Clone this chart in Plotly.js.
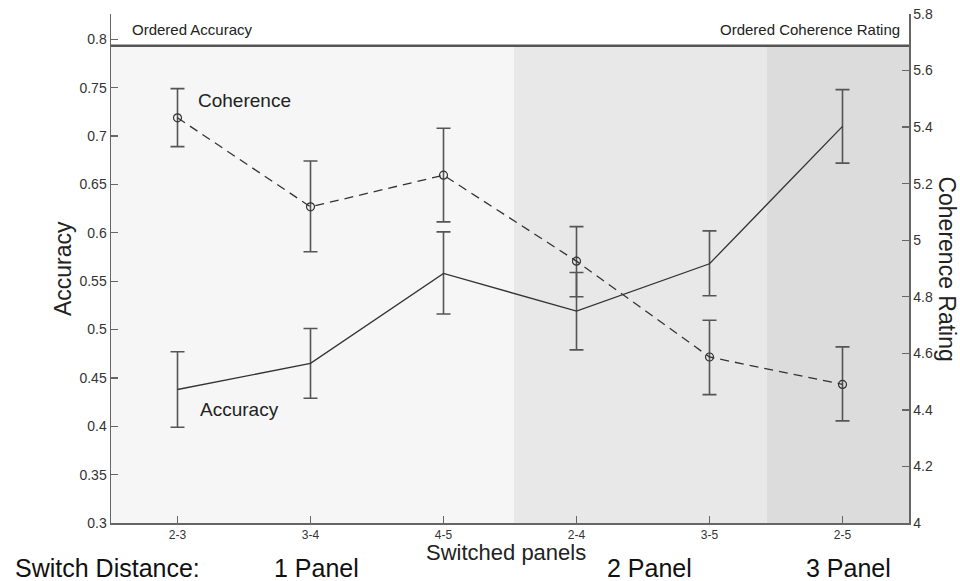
<!DOCTYPE html>
<html>
<head>
<meta charset="utf-8">
<script src="https://cdn.plot.ly/plotly-3.0.1.min.js"></script>
<style>
  html, body { margin: 0; padding: 0; background: #fff; }
  #chart { width: 960px; height: 581px; }
</style>
</head>
<body>
<div id="chart"></div>
<script>
// ---- Data ----
const categories = ["2-3", "3-4", "4-5", "2-4", "3-5", "2-5"];

const accuracy      = [0.438, 0.465, 0.558, 0.519, 0.568, 0.710];
const accuracyUpper = [0.477, 0.501, 0.601, 0.559, 0.602, 0.748];
const accuracyLower = [0.399, 0.429, 0.516, 0.479, 0.535, 0.672];

const coherence      = [5.433, 5.118, 5.230, 4.926, 4.587, 4.490];
const coherenceUpper = [5.536, 5.280, 5.396, 5.048, 4.717, 4.623];
const coherenceLower = [5.331, 4.959, 5.065, 4.800, 4.454, 4.361];

const groupLabels = ["1 Panel", "2 Panel", "3 Panel"];

// ---- Build traces ----
const FONT = "Liberation Sans, Arial, Helvetica, sans-serif";

const accTrace = {
  x: categories,
  y: accuracy,
  type: "scatter",
  mode: "lines",
  name: "Accuracy",
  line: { color: "#333333", width: 1.3 },
  error_y: {
    type: "data",
    symmetric: false,
    array: accuracy.map((v, i) => accuracyUpper[i] - v),
    arrayminus: accuracy.map((v, i) => v - accuracyLower[i]),
    color: "#555555",
    thickness: 1.6,
    width: 7
  },
  xaxis: "x",
  yaxis: "y",
  showlegend: false,
  hoverinfo: "skip"
};

const cohTrace = {
  x: categories,
  y: coherence,
  type: "scatter",
  mode: "lines+markers",
  name: "Coherence",
  line: { color: "#333333", width: 1.3, dash: "9px,6px" },
  marker: { symbol: "circle-open", size: 8, color: "#333333", line: { width: 1.2, color: "#333333" } },
  error_y: {
    type: "data",
    symmetric: false,
    array: coherence.map((v, i) => coherenceUpper[i] - v),
    arrayminus: coherence.map((v, i) => v - coherenceLower[i]),
    color: "#555555",
    thickness: 1.6,
    width: 7
  },
  xaxis: "x",
  yaxis: "y2",
  showlegend: false,
  hoverinfo: "skip"
};

// ---- Layout ----
const lineY = 0.9377; // paper position of the separator line

const layout = {
  width: 960,
  height: 581,
  margin: { l: 111, r: 51, t: 14, b: 58 },
  paper_bgcolor: "#ffffff",
  plot_bgcolor: "#ffffff",
  font: { family: FONT, color: "#222222" },
  showlegend: false,
  xaxis: {
    type: "category",
    range: [-0.5, 5.5],
    showline: true,
    linecolor: "#666666",
    linewidth: 1.5,
    ticks: "inside",
    ticklen: 7,
    tickwidth: 1.3,
    tickcolor: "#666666",
    tickfont: { size: 12, color: "#333333", family: FONT },
    showgrid: false,
    zeroline: false,
    mirror: false
  },
  yaxis: {
    range: [0.3, 0.8262],
    dtick: 0.05,
    tick0: 0.3,
    showline: true,
    linecolor: "#666666",
    linewidth: 1.5,
    ticks: "inside",
    ticklen: 7,
    tickwidth: 1.3,
    tickcolor: "#666666",
    tickfont: { size: 14, color: "#333333", family: FONT },
    showgrid: false,
    zeroline: false
  },
  yaxis2: {
    overlaying: "y",
    side: "right",
    range: [4, 5.8],
    dtick: 0.2,
    tick0: 4,
    showline: true,
    linecolor: "#666666",
    linewidth: 1.5,
    ticks: "inside",
    ticklen: 7,
    tickwidth: 1.3,
    tickcolor: "#666666",
    tickfont: { size: 14, color: "#333333", family: FONT },
    showgrid: false,
    zeroline: false
  },
  shapes: [
    { type: "rect", layer: "below", xref: "x", yref: "paper", x0: -0.5, x1: 2.53, y0: 0, y1: lineY,
      fillcolor: "#f6f6f6", line: { width: 0 } },
    { type: "rect", layer: "below", xref: "x", yref: "paper", x0: 2.53, x1: 4.43, y0: 0, y1: lineY,
      fillcolor: "#e8e8e8", line: { width: 0 } },
    { type: "rect", layer: "below", xref: "x", yref: "paper", x0: 4.43, x1: 5.5, y0: 0, y1: lineY,
      fillcolor: "#dcdcdc", line: { width: 0 } },
    { type: "line", layer: "above", xref: "paper", yref: "paper", x0: 0, x1: 1, y0: lineY, y1: lineY,
      line: { color: "#555555", width: 2.5 } }
  ],
  annotations: [
    { text: "Ordered Accuracy", xref: "paper", yref: "paper", x: 0.0238, y: 0.970,
      xanchor: "left", yanchor: "middle", showarrow: false, font: { size: 15, color: "#222222", family: FONT } },
    { text: "Ordered Coherence Rating", xref: "paper", yref: "paper", x: 0.9909, y: 0.970,
      xanchor: "right", yanchor: "middle", showarrow: false, font: { size: 15, color: "#222222", family: FONT } },
    { text: "Coherence", xref: "paper", yref: "paper", x: 0.106, y: 0.831,
      xanchor: "left", yanchor: "middle", showarrow: false, font: { size: 19, color: "#222222", family: FONT } },
    { text: "Accuracy", xref: "paper", yref: "paper", x: 0.1094, y: 0.2235,
      xanchor: "left", yanchor: "middle", showarrow: false, font: { size: 19, color: "#222222", family: FONT } },
    { text: "Accuracy", xref: "paper", yref: "paper", x: -0.0602, y: 0.5007, textangle: -90,
      xanchor: "center", yanchor: "middle", showarrow: false, font: { size: 23, color: "#222222", family: FONT } },
    { text: "Coherence Rating", xref: "paper", yref: "paper", x: 1.0473, y: 0.4987, textangle: 90,
      xanchor: "center", yanchor: "middle", showarrow: false, font: { size: 23, color: "#222222", family: FONT } },
    { text: "Switched panels", xref: "paper", yref: "paper", x: 0.495, y: -0.0576,
      xanchor: "center", yanchor: "middle", showarrow: false, font: { size: 22, color: "#222222", family: FONT } },
    { text: "Switch Distance:", xref: "paper", yref: "paper", x: -0.1228, y: -0.089,
      xanchor: "left", yanchor: "middle", showarrow: false, font: { size: 25, color: "#111111", family: FONT } },
    { text: groupLabels[0], xref: "paper", yref: "paper", x: 0.258, y: -0.089,
      xanchor: "center", yanchor: "middle", showarrow: false, font: { size: 25, color: "#111111", family: FONT } },
    { text: groupLabels[1], xref: "paper", yref: "paper", x: 0.6754, y: -0.089,
      xanchor: "center", yanchor: "middle", showarrow: false, font: { size: 25, color: "#111111", family: FONT } },
    { text: groupLabels[2], xref: "paper", yref: "paper", x: 0.9236, y: -0.089,
      xanchor: "center", yanchor: "middle", showarrow: false, font: { size: 25, color: "#111111", family: FONT } }
  ]
};

Plotly.newPlot("chart", [accTrace, cohTrace], layout, { staticPlot: true, displayModeBar: false });
</script>
</body>
</html>
